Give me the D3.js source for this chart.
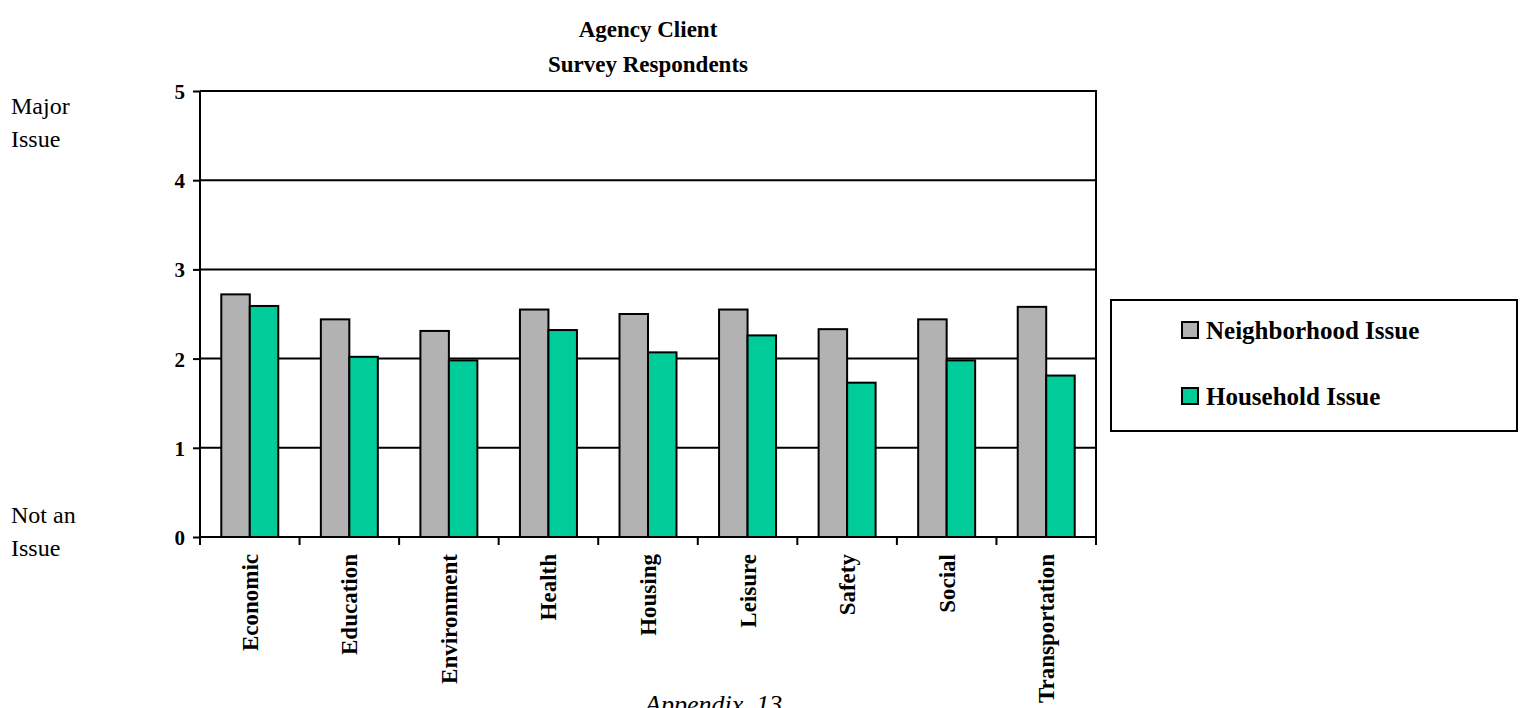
<!DOCTYPE html>
<html>
<head>
<meta charset="utf-8">
<script src="https://cdn.jsdelivr.net/npm/d3@7"></script>
<style>
  html, body { margin: 0; padding: 0; background: #fff; }
  svg { display: block; font-family: "Liberation Serif", "Times New Roman", serif; }
</style>
</head>
<body>
<svg id="chart" width="1520" height="708"></svg>
<script>
// Issue ratings, 0 = not an issue, 5 = major issue
const categories = ["Economic", "Education", "Environment", "Health", "Housing",
                    "Leisure", "Safety", "Social", "Transportation"];
const neighborhood = [2.72, 2.44, 2.31, 2.55, 2.50, 2.55, 2.33, 2.44, 2.58];
const household    = [2.59, 2.02, 1.98, 2.32, 2.07, 2.26, 1.73, 1.98, 1.81];
const seriesNames  = ["Neighborhood Issue", "Household Issue"];
const seriesColors = ["#b2b2b2", "#00cc99"];
const yTicks = [0, 1, 2, 3, 4, 5];
const titleLines = ["Agency Client", "Survey Respondents"];

const svg = d3.select("#chart");
const plot = { left: 200, right: 1096, top: 91, bottom: 537 };

const y = d3.scaleLinear().domain([0, 5]).range([plot.bottom, plot.top]);
const x0 = d3.scaleBand().domain(categories).range([plot.left, plot.right]);
const x1 = d3.scaleBand().domain(seriesNames)
  .range([0, x0.bandwidth()]).paddingInner(0).paddingOuter(0.747);
const color = d3.scaleOrdinal().domain(seriesNames).range(seriesColors);

// horizontal gridlines at the major ticks
svg.append("g")
  .selectAll("line")
  .data(yTicks.filter(t => t > 0 && t < 5))
  .join("line")
  .attr("x1", plot.left).attr("x2", plot.right)
  .attr("y1", d => y(d)).attr("y2", d => y(d))
  .attr("stroke", "#000").attr("stroke-width", 2);

// plot frame: top and right edges
svg.append("path")
  .attr("d", `M${plot.left},${y(5)}H${plot.right}V${y(0)}`)
  .attr("fill", "none").attr("stroke", "#000").attr("stroke-width", 2);

// bars
const rows = categories.map((c, i) => ({
  category: c,
  values: [
    { series: seriesNames[0], value: neighborhood[i] },
    { series: seriesNames[1], value: household[i] }
  ]
}));

svg.append("g")
  .selectAll("g")
  .data(rows)
  .join("g")
  .attr("transform", d => `translate(${x0(d.category)},0)`)
  .selectAll("rect")
  .data(d => d.values)
  .join("rect")
  .attr("x", d => x1(d.series))
  .attr("width", x1.bandwidth())
  .attr("y", d => y(d.value))
  .attr("height", d => y(0) - y(d.value))
  .attr("fill", d => color(d.series))
  .attr("stroke", "#000").attr("stroke-width", 2);

// y axis
const yAxis = svg.append("g")
  .attr("transform", `translate(${plot.left},0)`)
  .call(d3.axisLeft(y).tickValues(yTicks).tickFormat(d3.format("d"))
    .tickSize(7).tickPadding(8));
yAxis.select(".domain").remove();
yAxis.selectAll(".tick line").attr("stroke", "#000").attr("stroke-width", 2);
yAxis.selectAll(".tick text")
  .attr("font-family", "Liberation Serif, Times New Roman, serif")
  .attr("font-size", 21).attr("font-weight", "bold").attr("fill", "#000")
  .attr("dy", "0.36em");
yAxis.append("line")
  .attr("x1", 0).attr("x2", 0)
  .attr("y1", y(5)).attr("y2", y(0) + 7)
  .attr("stroke", "#000").attr("stroke-width", 2);

// x axis: baseline with ticks at category boundaries
const xg = svg.append("g");
xg.append("line")
  .attr("x1", plot.left).attr("x2", plot.right)
  .attr("y1", y(0)).attr("y2", y(0))
  .attr("stroke", "#000").attr("stroke-width", 2);
xg.selectAll("line.bound")
  .data(categories.map(c => x0(c)).concat([plot.right]))
  .join("line")
  .attr("class", "bound")
  .attr("x1", d => d).attr("x2", d => d)
  .attr("y1", y(0)).attr("y2", y(0) + 8)
  .attr("stroke", "#000").attr("stroke-width", 2);
xg.selectAll("text")
  .data(categories)
  .join("text")
  .attr("transform", d => `translate(${x0(d) + x0.bandwidth() / 2 + 8},${y(0) + 17}) rotate(-90)`)
  .attr("text-anchor", "end")
  .attr("font-size", 23).attr("font-weight", "bold").attr("fill", "#000")
  .text(d => d);

// title
svg.append("g")
  .selectAll("text")
  .data(titleLines)
  .join("text")
  .attr("x", (plot.left + plot.right) / 2)
  .attr("y", (d, i) => 37 + i * 35)
  .attr("text-anchor", "middle")
  .attr("font-size", 23).attr("font-weight", "bold").attr("fill", "#000")
  .text(d => d);

// scale end descriptions
const sideNotes = [
  { lines: ["Major", "Issue"], y: 114 },
  { lines: ["Not an", "Issue"], y: 523 }
];
sideNotes.forEach(n => {
  svg.append("g").selectAll("text")
    .data(n.lines)
    .join("text")
    .attr("x", 11)
    .attr("y", (d, i) => n.y + i * 33)
    .attr("font-size", 24).attr("fill", "#000")
    .text(d => d);
});

// legend
const legend = svg.append("g");
legend.append("rect")
  .attr("x", 1111).attr("y", 300).attr("width", 406).attr("height", 131)
  .attr("fill", "#fff").attr("stroke", "#000").attr("stroke-width", 2);
const items = legend.selectAll("g.item")
  .data(seriesNames)
  .join("g")
  .attr("class", "item")
  .attr("transform", (d, i) => `translate(1182,${322 + i * 66})`);
items.append("rect")
  .attr("width", 16).attr("height", 16)
  .attr("fill", d => color(d))
  .attr("stroke", "#000").attr("stroke-width", 2);
items.append("text")
  .attr("x", 24).attr("y", 17)
  .attr("font-size", 25).attr("font-weight", "bold").attr("fill", "#000")
  .text(d => d);

// page footer
svg.append("text")
  .attr("x", 645).attr("y", 713)
  .attr("font-size", 26).attr("font-style", "italic").attr("fill", "#000")
  .attr("xml:space", "preserve")
  .style("white-space", "pre")
  .text("Appendix  13");
</script>
</body>
</html>
